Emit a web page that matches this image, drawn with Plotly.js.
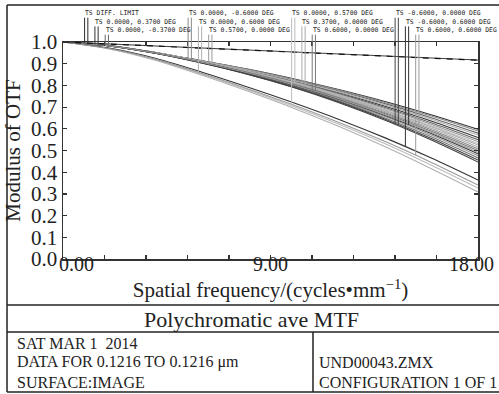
<!DOCTYPE html>
<html>
<head>
<meta charset="utf-8">
<script src="https://cdn.plot.ly/plotly-3.0.1.min.js"></script>
<style>html,body{margin:0;padding:0;background:#fff;}#chart{width:499px;height:394px;}</style>
</head>
<body>
<div id="chart"></div>
<script>
// Spatial frequency samples (cycles/mm)
const freq = [0, 2, 4, 6, 8, 10, 12, 14, 16, 18];

// Diffraction limit (T and S)
const diffT = [1, 0.991, 0.982, 0.972, 0.963, 0.954, 0.945, 0.936, 0.926, 0.917];
const diffS = [1, 0.991, 0.982, 0.973, 0.963, 0.954, 0.945, 0.935, 0.926, 0.916];

// Field 0.0000, 0.3700 DEG
const f1T = [1, 0.983, 0.951, 0.912, 0.869, 0.820, 0.765, 0.703, 0.635, 0.560];
const f1S = [1, 0.984, 0.952, 0.914, 0.875, 0.830, 0.780, 0.725, 0.664, 0.598];
// Field 0.0000, -0.3700 DEG
const f2T = [1, 0.983, 0.950, 0.911, 0.868, 0.818, 0.761, 0.697, 0.627, 0.550];
const f2S = [1, 0.984, 0.951, 0.913, 0.872, 0.825, 0.773, 0.715, 0.650, 0.580];
// Field 0.0000, -0.6000 DEG
const f3T = [1, 0.983, 0.949, 0.908, 0.861, 0.807, 0.744, 0.673, 0.595, 0.508];
const f3S = [1, 0.984, 0.952, 0.913, 0.874, 0.828, 0.777, 0.720, 0.658, 0.590];
// Field 0.0000, 0.6000 DEG
const f4T = [1, 0.968, 0.916, 0.848, 0.774, 0.695, 0.609, 0.516, 0.415, 0.309];
const f4S = [1, 0.983, 0.951, 0.912, 0.871, 0.823, 0.769, 0.709, 0.643, 0.571];
// Field 0.5700, 0.0000 DEG
const f5T = [1, 0.982, 0.948, 0.905, 0.856, 0.798, 0.731, 0.655, 0.570, 0.476];
const f5S = [1, 0.983, 0.950, 0.910, 0.866, 0.815, 0.757, 0.692, 0.620, 0.541];
// Field 0.0000, 0.5700 DEG
const f6T = [1, 0.969, 0.919, 0.852, 0.780, 0.703, 0.620, 0.530, 0.431, 0.327];
const f6S = [1, 0.983, 0.950, 0.910, 0.865, 0.813, 0.754, 0.687, 0.613, 0.532];
// Field 0.3700, 0.0000 DEG
const f7T = [1, 0.983, 0.950, 0.909, 0.862, 0.809, 0.747, 0.678, 0.601, 0.516];
const f7S = [1, 0.983, 0.950, 0.909, 0.864, 0.811, 0.751, 0.683, 0.608, 0.525];
// Field 0.6000, 0.0000 DEG
const f8T = [1, 0.982, 0.948, 0.905, 0.854, 0.795, 0.727, 0.649, 0.562, 0.466];
const f8S = [1, 0.982, 0.949, 0.907, 0.860, 0.805, 0.741, 0.668, 0.588, 0.500];
// Field -0.6000, 0.0000 DEG
const f9T = [1, 0.982, 0.948, 0.903, 0.851, 0.790, 0.719, 0.638, 0.547, 0.447];
const f9S = [1, 0.982, 0.948, 0.904, 0.852, 0.792, 0.723, 0.643, 0.554, 0.456];
// Field -0.6000, 0.6000 DEG
const f10T = [1, 0.972, 0.925, 0.862, 0.793, 0.720, 0.642, 0.557, 0.464, 0.364];
const f10S = [1, 0.982, 0.949, 0.906, 0.857, 0.800, 0.735, 0.660, 0.577, 0.485];
// Field 0.6000, 0.6000 DEG
const f11T = [1, 0.970, 0.921, 0.856, 0.785, 0.710, 0.628, 0.540, 0.444, 0.341];
const f11S = [1, 0.982, 0.949, 0.907, 0.858, 0.802, 0.737, 0.664, 0.582, 0.492];

// Legend labels (column-major as printed on the chart) and their anchor frequencies
const legendLabels = [
  "TS DIFF. LIMIT", "TS 0.0000, 0.3700 DEG", "TS 0.0000, -0.3700 DEG",
  "TS 0.0000, -0.6000 DEG", "TS 0.0000, 0.6000 DEG", "TS 0.5700, 0.0000 DEG",
  "TS 0.0000, 0.5700 DEG", "TS 0.3700, 0.0000 DEG", "TS 0.6000, 0.0000 DEG",
  "TS -0.6000, 0.0000 DEG", "TS -0.6000, 0.6000 DEG", "TS 0.6000, 0.6000 DEG"
];
const legendFreq = [0.867, 1.314, 1.761, 5.357, 5.803, 6.250, 9.846, 10.292, 10.739, 14.335, 14.781, 15.228];
const legendRow = [0, 1, 2, 0, 1, 2, 0, 1, 2, 0, 1, 2];
const curveColors = ["#2a2a2a", "#333333", "#666666", "#888888", "#b0b0b0", "#999999",
                     "#bbbbbb", "#aaaaaa", "#777777", "#444444", "#333333", "#9a9a9a"];

// Tick labels
const xTickVals = [0, 9, 18];
const xTickText = ["0.00", "9.00", "18.00"];
const yTickVals = [0, 0.1, 0.2, 0.3, 0.4, 0.5, 0.6, 0.7, 0.8, 0.9, 1.0];
const yTickText = ["0.0", "0.1", "0.2", "0.3", "0.4", "0.5", "0.6", "0.7", "0.8", "0.9", "1.0"];
const xMinorTicks = [0, 1.8, 3.6, 5.4, 7.2, 9, 10.8, 12.6, 14.4, 16.2, 18];

const pairs = [
  [diffT, diffS], [f1T, f1S], [f2T, f2S], [f3T, f3S], [f4T, f4S], [f5T, f5S],
  [f6T, f6S], [f7T, f7S], [f8T, f8S], [f9T, f9S], [f10T, f10S], [f11T, f11S]
];

function interp(arr, f) {
  for (let i = 0; i < freq.length - 1; i++) {
    if (f >= freq[i] && f <= freq[i + 1]) {
      const t = (f - freq[i]) / (freq[i + 1] - freq[i]);
      return arr[i] + t * (arr[i + 1] - arr[i]);
    }
  }
  return arr[arr.length - 1];
}

const traces = [];
pairs.forEach((p, i) => {
  if (i === 0) return;
  p.forEach(arr => {
    traces.push({x: freq, y: arr, type: 'scatter', mode: 'lines',
      line: {color: curveColors[i], width: 1.1, shape: 'spline', smoothing: 0.8},
      hoverinfo: 'skip', showlegend: false});
  });
});
// diffraction limit drawn last (dark with dash overlay)
traces.push({x: freq, y: diffT, type: 'scatter', mode: 'lines',
  line: {color: '#444', width: 1.2}, showlegend: false, hoverinfo: 'skip'});
traces.push({x: freq, y: diffS, type: 'scatter', mode: 'lines',
  line: {color: '#111', width: 1.2, dash: '6px,6px'}, showlegend: false, hoverinfo: 'skip'});

const FONT = 'Liberation Serif, serif';
const rowY = [1.134, 1.094, 1.055];
const rowBottom = [1.112, 1.072, 1.034];

const shapes = [];
const annotations = [];

legendLabels.forEach((lab, i) => {
  annotations.push({text: lab, xref: 'x', yref: 'paper', x: legendFreq[i], y: rowY[legendRow[i]],
    xanchor: 'left', yanchor: 'middle', showarrow: false,
    font: {family: 'DejaVu Sans Mono', size: 6.4, color: '#222'}});
  const offs = [0.07, 0.21];
  pairs[i].forEach((arr, k) => {
    const fx = legendFreq[i] + offs[k];
    shapes.push({type: 'line', xref: 'x', yref: 'paper', x0: fx, x1: fx,
      y0: interp(arr, fx), y1: rowBottom[legendRow[i]],
      line: {color: curveColors[i], width: 1}});
  });
});

// x tick labels
const xShift = [13, 0, -7];
xTickVals.forEach((v, i) => {
  annotations.push({text: xTickText[i], xref: 'x', yref: 'paper', x: v, y: -0.025,
    xanchor: 'center', yanchor: 'middle', xshift: xShift[i], showarrow: false,
    font: {family: FONT, size: 20, color: '#222'}});
});

// bottom info block
const info = [
  {t: 'Polychromatic ave MTF', x: 0.4554, y: -0.2765, a: 'center', s: 22},
  {t: 'SAT MAR 1  2014', x: -0.1157, y: -0.3917, a: 'left', s: 16},
  {t: 'DATA FOR 0.1216 TO 0.1216 \u03bcm', x: -0.1157, y: -0.4747, a: 'left', s: 16},
  {t: 'SURFACE:IMAGE', x: -0.1157, y: -0.5714, a: 'left', s: 16},
  {t: 'UND00043.ZMX', x: 0.612, y: -0.4747, a: 'left', s: 16},
  {t: 'CONFIGURATION 1 OF 1', x: 0.612, y: -0.5714, a: 'left', s: 16}
];
info.forEach(o => annotations.push({text: o.t, xref: 'paper', yref: 'paper', x: o.x, y: o.y,
  xanchor: o.a, yanchor: 'middle', showarrow: false, font: {family: FONT, size: o.s, color: '#222'}}));

// frame lines
const L = {color: '#222', width: 1.5};
shapes.push({type: 'line', xref: 'paper', yref: 'paper', x0: -0.1349, x1: 1.06, y0: 1.1705, y1: 1.1705, line: L});
shapes.push({type: 'line', xref: 'paper', yref: 'paper', x0: -0.1349, x1: -0.1349, y0: 1.1705, y1: -0.6129, line: L});
shapes.push({type: 'line', xref: 'paper', yref: 'paper', x0: -0.1349, x1: 1.06, y0: -0.212, y1: -0.212, line: L});
shapes.push({type: 'line', xref: 'paper', yref: 'paper', x0: -0.1349, x1: 1.06, y0: -0.3364, y1: -0.3364, line: L});
shapes.push({type: 'line', xref: 'paper', yref: 'paper', x0: -0.1349, x1: 1.06, y0: -0.6129, y1: -0.6129, line: L});
shapes.push({type: 'line', xref: 'paper', yref: 'paper', x0: 0.6024, x1: 0.6024, y0: -0.3364, y1: -0.6129, line: L});

const layout = {
  width: 499, height: 394,
  margin: {l: 63, r: 21, t: 42, b: 135},
  paper_bgcolor: '#fff', plot_bgcolor: '#fff',
  font: {family: FONT, color: '#222'},
  showlegend: false,
  xaxis: {
    range: [0, 18], tickmode: 'array', tickvals: xMinorTicks, showticklabels: false,
    ticks: 'inside', ticklen: 4, tickcolor: '#333', tickwidth: 1.2,
    showline: true, linecolor: '#333', linewidth: 1.5, mirror: 'allticks',
    showgrid: false, zeroline: false,
    title: {text: 'Spatial frequency/(cycles\u2022mm<sup>\u22121</sup>)', standoff: 23,
      font: {family: FONT, size: 21, color: '#222'}}
  },
  yaxis: {
    range: [0, 1], tickmode: 'array', tickvals: yTickVals, ticktext: yTickText,
    ticks: 'inside', ticklen: 4, tickcolor: '#333', tickwidth: 1.2,
    showline: true, linecolor: '#333', linewidth: 1.5, mirror: 'allticks',
    showgrid: false, zeroline: false,
    tickfont: {family: FONT, size: 21, color: '#222'},
    title: {text: 'Modulus of OTF', standoff: 4, font: {family: FONT, size: 21, color: '#222'}}
  },
  shapes: shapes,
  annotations: annotations
};

Plotly.newPlot('chart', traces, layout, {displayModeBar: false, staticPlot: true});
</script>
</body>
</html>
